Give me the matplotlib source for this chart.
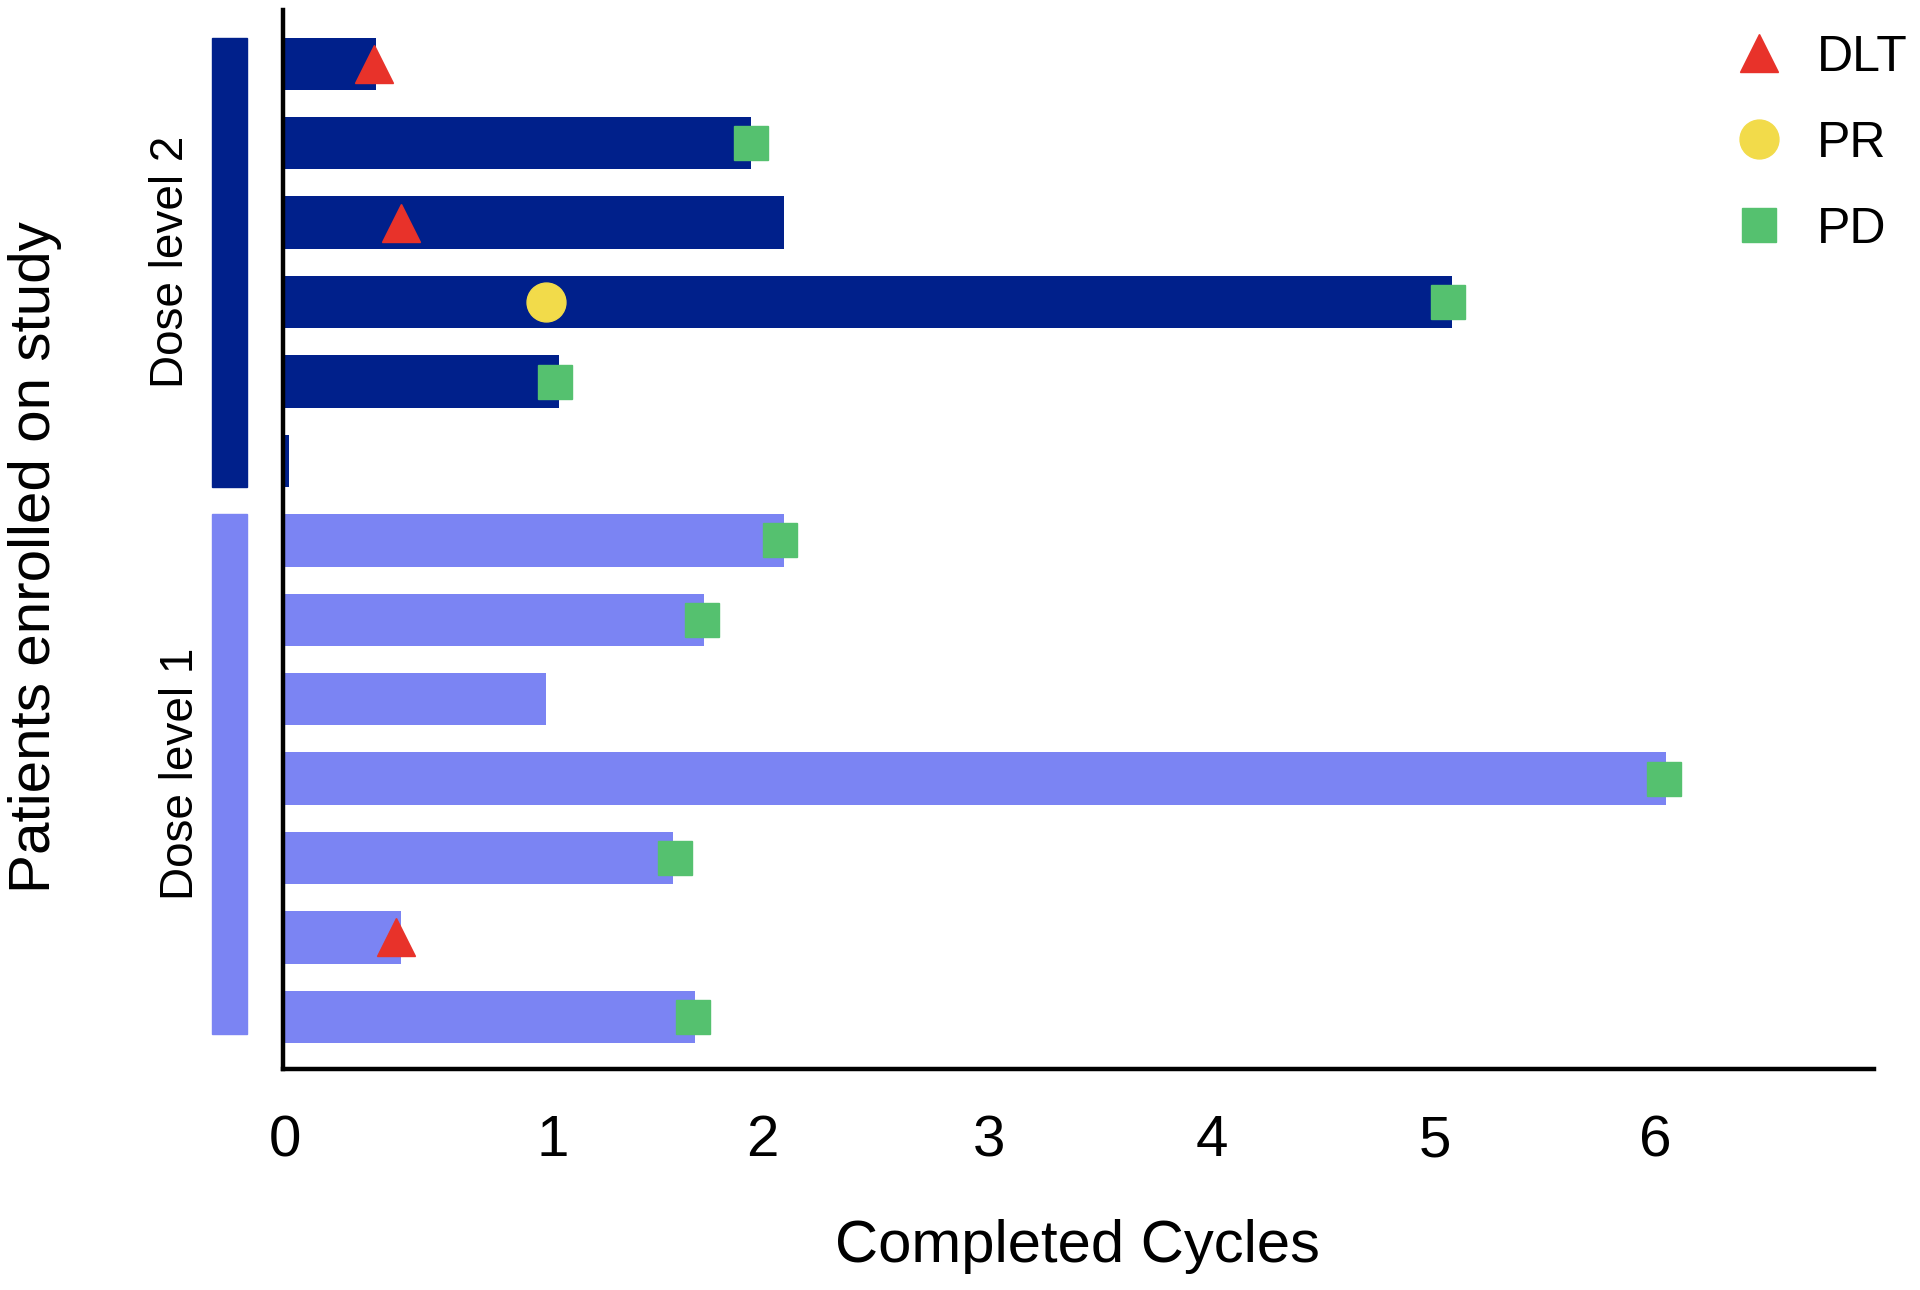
import matplotlib
matplotlib.use('Agg')
from matplotlib import pyplot as plt
from matplotlib.lines import Line2D
from matplotlib.patches import Rectangle
import matplotlib.transforms as mtransforms

plt.rcParams['font.family'] = ['Liberation Sans', 'DejaVu Sans']

# Patients, listed from top to bottom
dose_group = ['Dose level 2'] * 6 + ['Dose level 1'] * 7
cycles = [0.42, 2.10, 2.25, 5.25, 1.24, 0.03,
          2.25, 1.89, 1.18, 6.21, 1.75, 0.53, 1.85]
# event markers: (patient index, cycle)
dlt_patient = [0, 2, 11]
dlt_cycle = [0.41, 0.53, 0.51]
pr_patient = [3]
pr_cycle = [1.18]
pd_patient = [1, 3, 4, 6, 7, 9, 10, 12]
pd_cycle = [2.10, 5.23, 1.22, 2.23, 1.88, 6.20, 1.76, 1.84]

tick_pos = [0.01, 1.21, 2.15, 3.17, 4.17, 5.17, 6.16]
tick_labels = ['0', '1', '2', '3', '4', '5', '6']

group_colors = {'Dose level 2': '#00208B', 'Dose level 1': '#7B84F3'}
RED = '#E8322A'
YELLOW = '#F2DB4A'
GREEN = '#55C16F'

n = len(cycles)
ypos = [n - 1 - i for i in range(n)]

fig = plt.figure(figsize=(19.2, 12.9), dpi=100)
ax = fig.add_axes([0.1473, 0.1717, 0.8285, 0.8207])

ax.barh(ypos, cycles, height=0.66, color=[group_colors[g] for g in dose_group])

ax.plot(dlt_cycle, [ypos[i] for i in dlt_patient], '^', color=RED, ms=28, ls='none')
ax.plot(pr_cycle, [ypos[i] for i in pr_patient], 'o', color=YELLOW, ms=28, ls='none')
ax.plot(pd_cycle, [ypos[i] for i in pd_patient], 's', color=GREEN, ms=25, ls='none')

ax.set_xlim(0, 7.14)
ax.set_ylim(-0.65, n - 1 + 0.68)
ax.set_xticks(tick_pos)
ax.set_xticklabels(tick_labels, fontsize=42)
ax.set_yticks([])
ax.tick_params(axis='x', length=0, pad=33)
for s in ['top', 'right']:
    ax.spines[s].set_visible(False)
for s in ['left', 'bottom']:
    ax.spines[s].set_linewidth(3.2)
    ax.spines[s].set_color('black')

# group bars on the left
trans = mtransforms.blended_transform_factory(ax.transAxes, ax.transData)
for g, lx in [('Dose level 2', -0.070), ('Dose level 1', -0.064)]:
    rows = [ypos[i] for i in range(n) if dose_group[i] == g]
    lo, hi = min(rows) - 0.33, max(rows) + 0.33
    if g == 'Dose level 1':
        lo += 0.12
    ax.add_patch(Rectangle((-0.0447, lo), 0.0224, hi - lo, transform=trans,
                           color=group_colors[g], clip_on=False))
    ax.text(lx, (lo + hi) / 2, g, transform=trans, rotation=90,
            ha='center', va='center', fontsize=33)

fig.text(0.018, 0.568, 'Patients enrolled on study', rotation=90,
         ha='center', va='center', fontsize=42)
fig.text(0.561, 0.034, 'Completed Cycles', ha='center', va='center', fontsize=43)

handles = [
    Line2D([], [], marker='^', color=RED, ls='none', ms=28),
    Line2D([], [], marker='o', color=YELLOW, ls='none', ms=28),
    Line2D([], [], marker='s', color=GREEN, ls='none', ms=25),
]
fig.legend(handles, ['DLT', 'PR', 'PD'], loc='upper right',
           bbox_to_anchor=(1.017, 1.008), frameon=False, fontsize=36,
           labelspacing=0.8, handletextpad=0.35, handlelength=1.6)

fig.savefig('out.png', dpi=100)
